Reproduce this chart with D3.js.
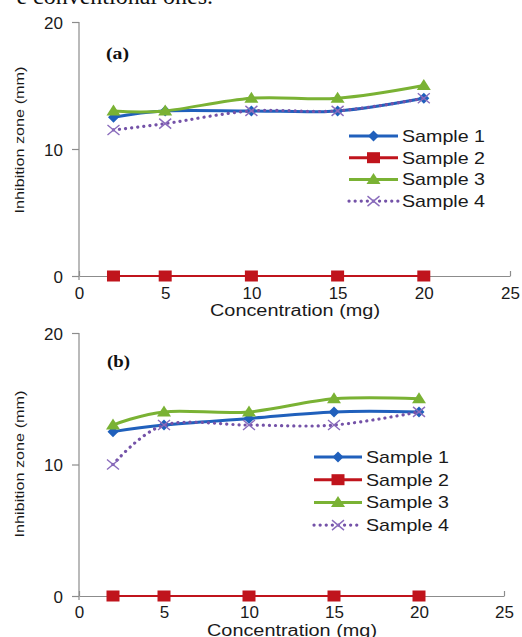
<!DOCTYPE html>
<html>
<head>
<meta charset="utf-8">
<script src="https://cdn.jsdelivr.net/npm/d3@7"></script>
<style>
  body { margin: 0; background: #fff; }
  svg { display: block; }
</style>
</head>
<body>
<div id="chart"></div>
<script>
// data
const concentration = [2, 5, 10, 15, 20];
const sampleNames = ["Sample 1", "Sample 2", "Sample 3", "Sample 4"];

const a_sample1 = [12.5, 13, 13, 13, 14];
const a_sample2 = [0, 0, 0, 0, 0];
const a_sample3 = [13, 13, 14, 14, 15];
const a_sample4 = [11.5, 12, 13, 13, 14];

const b_sample1 = [12.5, 13, 13.5, 14, 14];
const b_sample2 = [0, 0, 0, 0, 0];
const b_sample3 = [13, 14, 14, 15, 15];
const b_sample4 = [10, 13, 13, 13, 14];

const xTicks = [0, 5, 10, 15, 20, 25];
const yTicks = [0, 10, 20];
const xTitle = "Concentration (mg)";
const yTitle = "Inhibition zone (mm)";

const colors = ["#2060bc", "#c0141c", "#7ab234", "#7452a8"];
const markers = ["diamond", "square", "triangle", "cross"];

const W = 522, H = 637;
const font = "'Liberation Sans', Arial, sans-serif";
const svg = d3.select("#chart").append("svg")
  .attr("width", W).attr("height", H)
  .style("font-family", font);

svg.append("rect").attr("width", W).attr("height", H).attr("fill", "#fff");

// leftover line of the paper text above the figure
svg.append("text")
  .attr("x", 213).attr("y", 4)
  .attr("text-anchor", "end")
  .style("font-family", "'Liberation Serif', 'Times New Roman', serif")
  .style("font-size", "24px")
  .attr("fill", "#111")
  .text("e conventional ones.");

const panels = [
  { label: "(a)", series: [a_sample1, a_sample2, a_sample3, a_sample4],
    xr: [79, 510], yr: [276, 22], labelPos: [106, 59],
    legend: { x0: 349, x1: 398, y0: 136, dy: 21.7 },
    xTickY: 23, xTitleY: 316, xTitleX: 295, yTitleY: 140 },
  { label: "(b)", series: [b_sample1, b_sample2, b_sample3, b_sample4],
    xr: [79, 504], yr: [596, 333], labelPos: [107, 367],
    legend: { x0: 314, x1: 362, y0: 457, dy: 22.7 },
    xTickY: 22, xTitleY: 636, xTitleX: 292, yTitleY: 464 }
];

function drawMarker(g, type, cx, cy, color) {
  if (type === "diamond") {
    g.append("path")
      .attr("d", `M${cx},${cy - 5.5}L${cx + 5.5},${cy}L${cx},${cy + 5.5}L${cx - 5.5},${cy}Z`)
      .attr("fill", color);
  } else if (type === "square") {
    g.append("rect")
      .attr("x", cx - 6.5).attr("y", cy - 5.5)
      .attr("width", 13).attr("height", 11)
      .attr("fill", color);
  } else if (type === "triangle") {
    g.append("path")
      .attr("d", `M${cx},${cy - 6.5}L${cx + 7},${cy + 4.5}L${cx - 7},${cy + 4.5}Z`)
      .attr("fill", color);
  } else {
    g.append("path")
      .attr("d", `M${cx - 6},${cy - 5}L${cx + 6},${cy + 5}M${cx - 6},${cy + 5}L${cx + 6},${cy - 5}`)
      .attr("stroke", "#8a6cbc").attr("stroke-width", 1.4).attr("fill", "none");
  }
}

function styleLine(sel, i) {
  sel.attr("fill", "none")
    .attr("stroke", colors[i])
    .attr("stroke-width", i === 1 ? 2 : 3);
  if (i === 3) {
    sel.attr("stroke-width", 3.2)
      .attr("stroke-dasharray", "0.1,6")
      .attr("stroke-linecap", "round");
  }
}

panels.forEach(p => {
  const x = d3.scaleLinear().domain([0, 25]).range(p.xr);
  const y = d3.scaleLinear().domain([0, 20]).range(p.yr);
  const g = svg.append("g");

  // y axis
  const yAxis = g.append("g")
    .attr("transform", `translate(${p.xr[0]},0)`)
    .call(d3.axisLeft(y).tickValues(yTicks).tickSize(7).tickPadding(9).tickSizeOuter(0))
    .attr("font-family", null).attr("font-size", null);
  yAxis.select(".domain").attr("stroke", "#8c8c8c").attr("stroke-width", 1.2)
    .attr("d", `M0,${p.yr[1]}V${p.yr[0] + 4}`);
  yAxis.selectAll(".tick line").attr("stroke", "#8c8c8c").attr("stroke-width", 1.2);
  yAxis.selectAll(".tick text").attr("fill", "#1a1a1a").style("font-size", "17px")
    .attr("dy", "0.36em");

  // x axis, ticks pointing up
  const xAxis = g.append("g")
    .attr("transform", `translate(0,${p.yr[0]})`)
    .call(d3.axisBottom(x).tickValues(xTicks).tickSize(-5).tickPadding(0).tickSizeOuter(0))
    .attr("font-family", null).attr("font-size", null);
  xAxis.select(".domain").attr("stroke", "#8c8c8c").attr("stroke-width", 1.2);
  xAxis.selectAll(".tick line").attr("stroke", "#8c8c8c").attr("stroke-width", 1.2);
  xAxis.selectAll(".tick text").attr("fill", "#1a1a1a").style("font-size", "17px")
    .attr("dy", null).attr("y", p.xTickY);

  // axis titles
  g.append("text")
    .attr("x", p.xTitleX).attr("y", p.xTitleY)
    .attr("text-anchor", "middle")
    .attr("fill", "#1a1a1a")
    .style("font-size", "16px")
    .attr("textLength", 170).attr("lengthAdjust", "spacingAndGlyphs")
    .text(xTitle);
  g.append("text")
    .attr("transform", `translate(24,${p.yTitleY}) rotate(-90)`)
    .attr("text-anchor", "middle")
    .attr("fill", "#1a1a1a")
    .style("font-size", "13.5px")
    .attr("textLength", 147).attr("lengthAdjust", "spacingAndGlyphs")
    .text(yTitle);

  // panel label
  g.append("text")
    .attr("x", p.labelPos[0]).attr("y", p.labelPos[1])
    .style("font-family", "'Liberation Serif', 'Times New Roman', serif")
    .style("font-size", "17px").style("font-weight", "bold")
    .attr("fill", "#111")
    .attr("textLength", 23).attr("lengthAdjust", "spacingAndGlyphs")
    .text(p.label);

  // series
  const line = d3.line()
    .x((d, k) => x(concentration[k]))
    .y(d => y(d))
    .curve(d3.curveCardinal.tension(0));

  p.series.forEach((vals, i) => {
    const sg = g.append("g");
    sg.append("path").datum(vals).attr("d", line).call(styleLine, i);
    vals.forEach((v, k) => drawMarker(sg, markers[i], x(concentration[k]), y(v), colors[i]));
  });

  // legend
  const L = p.legend;
  sampleNames.forEach((name, i) => {
    const ly = L.y0 + i * L.dy;
    const lg = g.append("g");
    lg.append("path").attr("d", `M${L.x0},${ly}H${L.x1}`).call(styleLine, i)
      .attr("stroke-width", i === 3 ? 3.2 : 3);
    drawMarker(lg, markers[i], (L.x0 + L.x1) / 2, ly, colors[i]);
    lg.append("text")
      .attr("x", L.x1 + 4).attr("y", ly + 6)
      .attr("fill", "#1a1a1a")
      .style("font-size", "17px")
      .attr("textLength", 83).attr("lengthAdjust", "spacingAndGlyphs")
      .text(name);
  });
});
</script>
</body>
</html>
